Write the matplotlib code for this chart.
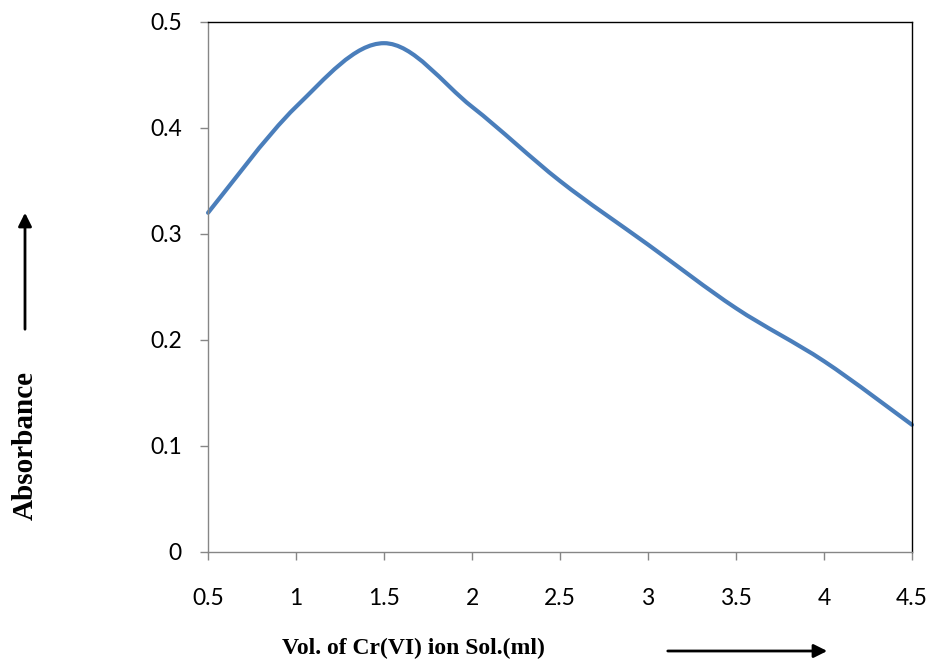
import numpy as np
import matplotlib.pyplot as plt
from matplotlib.path import Path
from matplotlib.patches import PathPatch

# data
volume = [0.5, 1.0, 1.5, 2.0, 2.5, 3.0, 3.5, 4.0, 4.5]
absorbance = [0.32, 0.42, 0.48, 0.42, 0.35, 0.29, 0.23, 0.18, 0.12]
x_ticks = [0.5, 1, 1.5, 2, 2.5, 3, 3.5, 4, 4.5]
x_tick_labels = ["0.5", "1", "1.5", "2", "2.5", "3", "3.5", "4", "4.5"]
y_ticks = [0, 0.1, 0.2, 0.3, 0.4, 0.5]
y_tick_labels = ["0", "0.1", "0.2", "0.3", "0.4", "0.5"]

fig = plt.figure(figsize=(9.3, 6.62), dpi=100)
ax = fig.add_axes([0.2237, 0.1662, 0.7569, 0.8006])

# smoothed line like Excel (bezier through the data points)
pts = np.column_stack([volume, absorbance])
ext = np.vstack([pts[0], pts, pts[-1]])
verts = [tuple(pts[0])]
codes = [Path.MOVETO]
for i in range(len(pts) - 1):
    p0, p1, p2, p3 = ext[i], ext[i + 1], ext[i + 2], ext[i + 3]
    c1 = p1 + (p2 - p0) / 6
    c2 = p2 - (p3 - p1) / 6
    verts += [tuple(c1), tuple(c2), tuple(p2)]
    codes += [Path.CURVE4] * 3
ax.add_patch(PathPatch(Path(verts, codes), facecolor="none", edgecolor="#4A7EBB",
                       lw=3.0, capstyle="round", joinstyle="round", clip_on=False))

ax.set_xlim(0.5, 4.5)
ax.set_ylim(0, 0.5)
ax.set_xticks(x_ticks)
ax.set_xticklabels(x_tick_labels)
ax.set_yticks(y_ticks)
ax.set_yticklabels(y_tick_labels)

for lab in ax.get_xticklabels() + ax.get_yticklabels():
    lab.set_family("Lato")
    lab.set_fontsize(16.5)

ax.tick_params(axis="x", direction="out", length=6, width=1, color="#868686", pad=20)
ax.tick_params(axis="y", direction="out", length=6, width=1, color="#868686", pad=13)

ax.spines["left"].set_color("#868686")
ax.spines["bottom"].set_color("#868686")
ax.spines["top"].set_color("black")
ax.spines["right"].set_color("black")
for s in ax.spines.values():
    s.set_linewidth(1)

fig.text(282 / 930, 1 - 648 / 662, "Vol. of Cr(VI) ion Sol.(ml)", family="Liberation Serif",
         weight="bold", fontsize=17, ha="left", va="center")
fig.text(25 / 930, 1 - 445 / 662, "Absorbance", family="Liberation Serif",
         weight="bold", fontsize=21, rotation=90, ha="center", va="center")

ax.annotate("", xy=(830 / 930, 1 - 651 / 662), xytext=(665 / 930, 1 - 651 / 662),
            xycoords="figure fraction",
            arrowprops=dict(arrowstyle="-|>", color="black", lw=2, mutation_scale=20))
ax.annotate("", xy=(25 / 930, 1 - 210 / 662), xytext=(25 / 930, 1 - 332 / 662),
            xycoords="figure fraction",
            arrowprops=dict(arrowstyle="-|>", color="black", lw=2, mutation_scale=20))

fig.savefig("out.png", dpi=100)
